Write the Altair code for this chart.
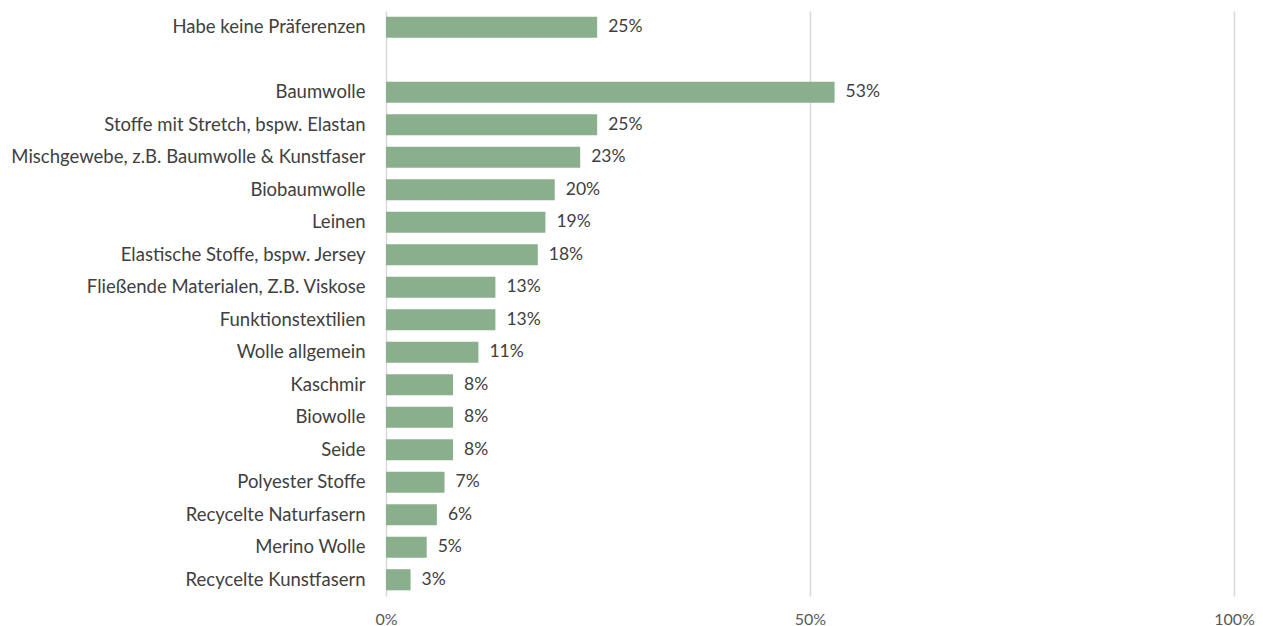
import altair as alt
import pandas as pd

categories = [
    "Habe keine Präferenzen",
    " ",
    "Baumwolle",
    "Stoffe mit Stretch, bspw. Elastan",
    "Mischgewebe, z.B. Baumwolle & Kunstfaser",
    "Biobaumwolle",
    "Leinen",
    "Elastische Stoffe, bspw. Jersey",
    "Fließende Materialen, Z.B. Viskose",
    "Funktionstextilien",
    "Wolle allgemein",
    "Kaschmir",
    "Biowolle",
    "Seide",
    "Polyester Stoffe",
    "Recycelte Naturfasern",
    "Merino Wolle",
    "Recycelte Kunstfasern",
]
values = [0.249, None, 0.529, 0.249, 0.229, 0.199, 0.188, 0.179, 0.129, 0.129,
          0.109, 0.079, 0.079, 0.079, 0.069, 0.060, 0.048, 0.029]
labels = ["25%", "", "53%", "25%", "23%", "20%", "19%", "18%", "13%", "13%",
          "11%", "8%", "8%", "8%", "7%", "6%", "5%", "3%"]

df = pd.DataFrame({"cat": categories, "val": values, "lab": labels})
df = df[df["val"].notna()]

FONT = "Lato"

y = alt.Y("cat:N", sort=categories,
          scale=alt.Scale(domain=categories, paddingInner=0.35, paddingOuter=0.175),
          axis=alt.Axis(title=None, ticks=False, domain=False, labelFontSize=18.5,
                        labelColor="#404040", labelFont=FONT, labelPadding=21,
                        labelLimit=500))
x = alt.X("val:Q", scale=alt.Scale(domain=[0, 1]),
          axis=alt.Axis(title=None, values=[0, 0.5, 1], format=".0%", ticks=False,
                        domain=False, grid=True, gridColor="#d9d9d9", gridWidth=1.5,
                        labelFontSize=16, labelColor="#595959", labelFont=FONT,
                        labelPadding=15, labelFlush=False))

bars = alt.Chart(df).mark_bar(color="#8aaf8c").encode(x=x, y=y)
text = alt.Chart(df).mark_text(align="left", baseline="middle", dx=11, fontSize=17.5,
                               font=FONT, color="#404040").encode(
    x=alt.X("val:Q"), y=alt.Y("cat:N", sort=categories), text="lab:N")

chart = (bars + text).properties(
    width=848, height=585,
    autosize=alt.AutoSizeParams(type="none"),
    padding={"left": 378, "top": 3, "right": 21, "bottom": 30},
).configure_view(stroke=None)

chart.save("out.html", embed_options={"renderer": "svg", "actions": False})
